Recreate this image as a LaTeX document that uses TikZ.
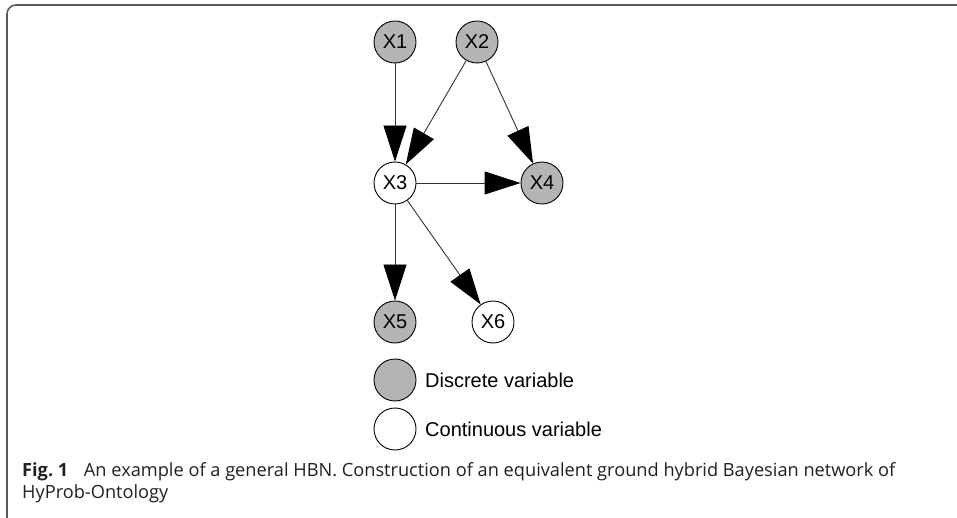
\documentclass[tikz,border=0pt]{standalone}
\usepackage{fontspec}
\setmainfont{Liberation Sans}
\newfontfamily\capfont{Open Sans}
\usetikzlibrary{arrows.meta}
\definecolor{discgray}{RGB}{180,180,180}
\definecolor{framegray}{RGB}{90,90,90}
\definecolor{captext}{RGB}{35,31,32}
\begin{document}
\begin{tikzpicture}[x=1pt,y=-1pt,
  var/.style={circle,draw=black,line width=0.9pt,minimum size=42pt,inner sep=0pt,
    font=\fontsize{20}{24}\selectfont},
  disc/.style={var,fill=discgray},
  cont/.style={var,fill=white},
  edge/.style={line width=0.9pt,draw=black!80,
    -{Triangle[length=36pt,width=23pt,color=black]}},
  legendtext/.style={anchor=west,inner sep=0pt,font=\fontsize{20}{24}\selectfont},
  captionline/.style={anchor=base west,inner sep=0pt,text=captext,
    font=\capfont\fontsize{18.2}{22}\selectfont}]
\useasboundingbox (0,0) rectangle (957,518);
\clip (0,0) rectangle (957,518);

% figure frame (open to the right and bottom)
\draw[framegray,line width=1.6pt,rounded corners=9pt] (7,540) -- (7,5) -- (980,5);

% variables
\node[disc] (x1) at (395,42) {X1};
\node[disc] (x2) at (477,42) {X2};
\node[cont] (x3) at (395,183) {X3};
\node[disc] (x4) at (542,183) {X4};
\node[disc] (x5) at (395,322) {X5};
\node[cont] (x6) at (493,322) {X6};

% dependencies
\draw[edge] (x1) -- (x3);
\draw[edge] (x2) -- (x3);
\draw[edge] (x2) -- (x4);
\draw[edge] (x3) -- (x4);
\draw[edge] (x3) -- (x5);
\draw[edge] (x3) -- (x6);

% legend
\node[disc] (ldisc) at (395,380) {};
\node[legendtext] (ldisctext) at (425,380) {Discrete variable};
\node[cont] (lcont) at (395,429) {};
\node[legendtext] (lconttext) at (425,429) {Continuous variable};

% caption
\node[captionline] (cap1) at (22,476) {\textbf{Fig.~1}\hspace{0.6em} An example of a general HBN. Construction of an equivalent ground hybrid Bayesian network of};
\node[captionline] (cap2) at (22,498) {HyProb-Ontology};
\end{tikzpicture}
\end{document}
